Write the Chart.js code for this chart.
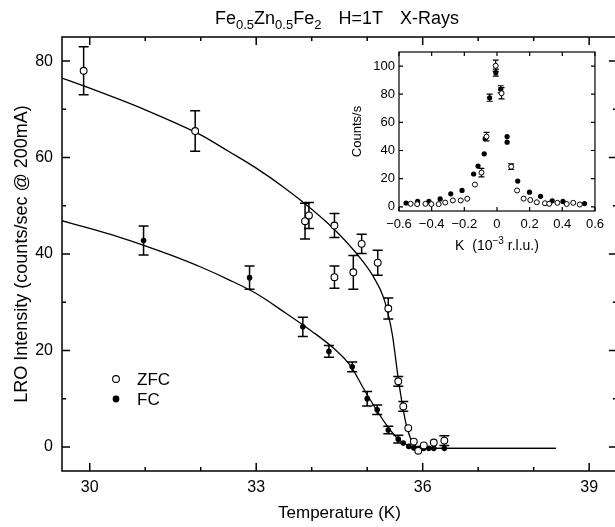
<!DOCTYPE html>
<html>
<head>
<meta charset="utf-8">
<script src="https://cdn.jsdelivr.net/npm/chart.js@4/dist/chart.umd.min.js"></script>
<style>
  html, body { margin: 0; padding: 0; background: #fff; overflow: hidden; }
  #wrap { position: relative; width: 615px; height: 527px; overflow: hidden; }
  #main { position: absolute; left: 0; top: 0; }
  #inset { position: absolute; left: 340px; top: 40px; }
</style>
</head>
<body>
<div id="wrap">
  <canvas id="main" width="622" height="527"></canvas>
  <canvas id="inset" width="270" height="220"></canvas>
</div>
<script>
// LRO intensity vs temperature, zero-field-cooled
const zfcT   = [29.89, 31.90, 33.88, 33.95, 34.41, 34.41, 34.75, 34.90, 35.19, 35.38, 35.56, 35.65, 35.74, 35.84, 35.92, 36.02, 36.20, 36.39];
const zfcI   = [78.0, 65.5, 46.8, 48.0, 45.9, 35.2, 36.2, 42.1, 38.2, 28.7, 13.6, 8.4, 3.9, 1.1, -0.8, 0.3, 0.9, 1.3];
const zfcErr = [5.0, 4.2, 3.7, 2.7, 2.5, 2.3, 3.5, 2.0, 2.6, 2.2, 1.0, 1.0, 0, 0, 0, 0, 0, 1.0];

// field-cooled
const fcT   = [30.97, 32.88, 33.84, 34.31, 34.73, 35.00, 35.18, 35.38, 35.56, 35.65, 35.75, 35.84, 35.93, 36.02, 36.11, 36.20, 36.39];
const fcI   = [42.8, 35.1, 24.9, 19.8, 16.6, 10.0, 7.7, 3.5, 1.6, 0.8, 0.1, -0.2, -0.3, -0.3, -0.3, -0.3, -0.3];
const fcErr = [3.0, 2.4, 2.0, 1.2, 1.0, 1.5, 1.0, 0.8, 0.8, 0, 0, 0, 0, 0, 0, 0, 0];

// fitted curves
const zfcFitT = [29.5, 30.0, 30.5, 31.0, 31.5, 32.0, 32.5, 33.0, 33.5, 34.0, 34.4, 34.8, 35.1, 35.3, 35.45, 35.55, 35.63, 35.7, 35.78, 35.86, 35.95, 38.4];
const zfcFitI = [76.5, 74.4, 72.2, 69.9, 67.4, 64.7, 61.3, 57.8, 53.8, 49.3, 45.2, 40.2, 35.5, 30.8, 23.5, 15.0, 9.0, 4.8, 1.8, 0.3, -0.3, -0.3];
const fcFitT  = [29.5, 30.0, 30.5, 31.0, 31.5, 32.0, 32.5, 33.0, 33.5, 34.0, 34.4, 34.7, 34.95, 35.15, 35.35, 35.55, 35.75, 35.95, 38.4];
const fcFitI  = [46.9, 45.3, 43.6, 41.7, 39.6, 37.3, 34.7, 31.8, 28.0, 24.0, 20.4, 16.8, 11.8, 8.0, 4.5, 1.7, 0.2, -0.3, -0.3];

const tempLabels = [30, 33, 36, 39];
const tempMarks = [30, 31, 32, 33, 34, 35, 36, 37, 38, 39];
const intensityLabels = [0, 20, 40, 60, 80];
const intensityMarks = [0, 10, 20, 30, 40, 50, 60, 70, 80];

// inset: K scans, counts/s
const kZfc   = [-0.529, -0.489, -0.438, -0.402, -0.357, -0.317, -0.270, -0.222, -0.182, -0.135, -0.095, -0.064, -0.008, 0.028, 0.087, 0.123, 0.163, 0.204, 0.244, 0.294, 0.320, 0.370, 0.427, 0.467, 0.507];
const cZfc   = [2.1, 1.9, 2.1, 1.9, 1.9, 3.0, 4.5, 4.5, 5.7, 15.8, 24.3, 49.9, 100.2, 80.7, 28.5, 11.6, 5.8, 4.8, 3.2, 2.5, 2.1, 2.8, 2.0, 2.8, 1.6];
const cZfcErr = [0, 0, 0, 0, 0, 0, 0, 0, 0, 0, 3, 3, 4, 4, 2, 0, 0, 0, 0, 0, 0, 0, 0, 0, 0];
const kFc    = [-0.557, -0.486, -0.417, -0.348, -0.283, -0.214, -0.143, -0.116, -0.078, -0.072, -0.045, -0.007, 0.023, 0.062, 0.062, 0.127, 0.199, 0.267, 0.338, 0.404, 0.536];
const cFc    = [2.7, 3.9, 3.8, 5.6, 9.2, 11.6, 23.3, 28.9, 37.6, 48.4, 77.5, 95.3, 83.5, 49.9, 45.9, 18.3, 10.4, 7.4, 4.2, 3.8, 2.3];
const cFcErr = [0, 0, 0, 0, 0, 0, 0, 0, 0, 0, 2.5, 2.5, 2.5, 0, 0, 0, 0, 0, 0, 0, 0];

const kLabels = [-0.6, -0.4, -0.2, 0, 0.2, 0.4, 0.6];
const countLabels = [0, 20, 40, 60, 80, 100];

const FONT = "'Liberation Sans', Arial, sans-serif";

function pts(xs, ys) {
  return xs.map((x, i) => ({ x: x, y: ys[i] }));
}

// frame plus inward tick marks on all four sides
function tickMarks(cfg) {
  return {
    id: 'tickMarks',
    afterDatasetsDraw(chart) {
      const { ctx, chartArea: a, scales: { x, y } } = chart;
      ctx.save();
      ctx.strokeStyle = '#000';
      ctx.lineWidth = cfg.lw;
      ctx.strokeRect(a.left, a.top, a.right - a.left, a.bottom - a.top);
      ctx.beginPath();
      cfg.xMarks.forEach(v => {
        const px = x.getPixelForValue(v);
        const len = cfg.xMajor.includes(v) ? cfg.big : cfg.small;
        ctx.moveTo(px, a.bottom); ctx.lineTo(px, a.bottom - len);
        ctx.moveTo(px, a.top); ctx.lineTo(px, a.top + len);
      });
      cfg.yMarks.forEach(v => {
        const py = y.getPixelForValue(v);
        const len = cfg.yMajor.includes(v) ? cfg.big : cfg.small;
        ctx.moveTo(a.left, py); ctx.lineTo(a.left + len, py);
        ctx.moveTo(a.right, py); ctx.lineTo(a.right - len, py);
      });
      ctx.stroke();
      ctx.restore();
    }
  };
}

// vertical error bars with caps, drawn under the markers
const errorBars = {
  id: 'errorBars',
  beforeDatasetsDraw(chart) {
    const { ctx, scales: { y } } = chart;
    chart.data.datasets.forEach((ds, i) => {
      if (!ds.yErr) return;
      const meta = chart.getDatasetMeta(i);
      ctx.save();
      ctx.strokeStyle = '#000';
      ctx.lineWidth = ds.errWidth;
      ctx.beginPath();
      meta.data.forEach((pt, j) => {
        const e = ds.yErr[j];
        if (!e) return;
        const v = ds.data[j].y;
        const y1 = y.getPixelForValue(v + e);
        const y2 = y.getPixelForValue(v - e);
        const c = ds.capHalf;
        ctx.moveTo(pt.x, y1); ctx.lineTo(pt.x, y2);
        ctx.moveTo(pt.x - c, y1); ctx.lineTo(pt.x + c, y1);
        ctx.moveTo(pt.x - c, y2); ctx.lineTo(pt.x + c, y2);
      });
      ctx.stroke();
      ctx.restore();
    });
  }
};

// title with subscripts and the ZFC / FC key
const mainDecor = {
  id: 'mainDecor',
  afterDraw(chart) {
    const ctx = chart.ctx;
    ctx.save();
    ctx.fillStyle = '#000';
    ctx.textBaseline = 'alphabetic';
    const parts = [['Fe', 0], ['0.5', 1], ['Zn', 0], ['0.5', 1], ['Fe', 0], ['2', 1], ['H=1T', 2], ['X-Rays', 2]];
    let x = 215;
    parts.forEach(([s, kind]) => {
      if (kind === 2) x += 17;
      ctx.font = (kind === 1 ? '13px ' : '18px ') + FONT;
      ctx.fillText(s, x, kind === 1 ? 29 : 24);
      x += ctx.measureText(s).width;
    });

    // key
    ctx.lineWidth = 1.1;
    ctx.strokeStyle = '#000';
    ctx.beginPath(); ctx.arc(116, 379, 3.4, 0, Math.PI * 2);
    ctx.fillStyle = '#fff'; ctx.fill(); ctx.stroke();
    ctx.beginPath(); ctx.arc(116, 399, 3.4, 0, Math.PI * 2);
    ctx.fillStyle = '#000'; ctx.fill();
    ctx.font = '17px ' + FONT;
    ctx.textBaseline = 'middle';
    ctx.fillText('ZFC', 137, 380);
    ctx.fillText('FC', 137, 400);
    ctx.restore();
  }
};

new Chart(document.getElementById('main'), {
  type: 'scatter',
  data: {
    datasets: [
      {
        label: 'ZFC', data: pts(zfcT, zfcI), yErr: zfcErr, errWidth: 1.5, capHalf: 5,
        pointRadius: 3.4, pointBorderWidth: 1.1, pointBackgroundColor: '#fff', pointBorderColor: '#000', order: 0
      },
      {
        label: 'FC', data: pts(fcT, fcI), yErr: fcErr, errWidth: 1.5, capHalf: 5,
        pointRadius: 2.8, pointBorderWidth: 0, pointBackgroundColor: '#000', pointBorderColor: '#000', order: 0
      },
      {
        label: 'ZFC fit', data: pts(zfcFitT, zfcFitI), showLine: true, pointRadius: 0,
        borderColor: '#000', borderWidth: 1.3, cubicInterpolationMode: 'monotone', order: 1
      },
      {
        label: 'FC fit', data: pts(fcFitT, fcFitI), showLine: true, pointRadius: 0,
        borderColor: '#000', borderWidth: 1.3, cubicInterpolationMode: 'monotone', order: 1
      }
    ]
  },
  options: {
    responsive: false,
    animation: false,
    layout: { padding: { top: 37, right: 4, left: 0, bottom: 0 } },
    plugins: { legend: { display: false }, tooltip: { enabled: false } },
    scales: {
      x: {
        type: 'linear', min: 29.5, max: 39.5,
        afterBuildTicks: s => { s.ticks = tempLabels.map(v => ({ value: v })); },
        afterFit: s => { s.height = 56; },
        grid: { display: false, drawTicks: false },
        border: { display: false },
        ticks: { color: '#000', font: { family: FONT, size: 16 }, padding: 7, maxRotation: 0 },
        title: { display: true, text: 'Temperature (K)', color: '#000', font: { family: FONT, size: 17 }, padding: { top: 0, bottom: 3 } }
      },
      y: {
        type: 'linear', min: -5, max: 85,
        afterBuildTicks: s => { s.ticks = intensityLabels.map(v => ({ value: v })); },
        afterFit: s => { s.width = 62; },
        grid: { display: false, drawTicks: false },
        border: { display: false },
        ticks: { color: '#000', font: { family: FONT, size: 16 }, padding: 9 },
        title: { display: true, text: 'LRO Intensity (counts/sec @ 200mA)', color: '#000', font: { family: FONT, size: 18 }, padding: { top: 11, bottom: 0 } }
      }
    }
  },
  plugins: [errorBars, tickMarks({ lw: 1.5, xMarks: tempMarks, xMajor: tempLabels, yMarks: intensityMarks, yMajor: intensityLabels, big: 8, small: 4 }), mainDecor]
});

// K axis label with a raised exponent
const insetDecor = {
  id: 'insetDecor',
  afterDraw(chart) {
    const { ctx, chartArea: a } = chart;
    ctx.save();
    ctx.fillStyle = '#000';
    ctx.textBaseline = 'alphabetic';
    const parts = [['K  (10', 0], ['\u22123', 1], [' r.l.u.)', 0]];
    let w = 0;
    parts.forEach(([s, k]) => { ctx.font = (k ? '10px ' : '14px ') + FONT; w += ctx.measureText(s).width; });
    let x = (a.left + a.right) / 2 - w / 2;
    parts.forEach(([s, k]) => {
      ctx.font = (k ? '10px ' : '14px ') + FONT;
      ctx.fillText(s, x, k ? 204 : 210);
      x += ctx.measureText(s).width;
    });
    ctx.restore();
  }
};

new Chart(document.getElementById('inset'), {
  type: 'scatter',
  data: {
    datasets: [
      {
        label: 'ZFC', data: pts(kZfc, cZfc), yErr: cZfcErr, errWidth: 1.2, capHalf: 3,
        pointRadius: 2.5, pointBorderWidth: 1, pointBackgroundColor: '#fff', pointBorderColor: '#000'
      },
      {
        label: 'FC', data: pts(kFc, cFc), yErr: cFcErr, errWidth: 1.2, capHalf: 3,
        pointRadius: 2.6, pointBorderWidth: 0, pointBackgroundColor: '#000', pointBorderColor: '#000'
      }
    ]
  },
  options: {
    responsive: false,
    animation: false,
    layout: { padding: { top: 12, right: 14, left: 0, bottom: 0 } },
    plugins: { legend: { display: false }, tooltip: { enabled: false } },
    scales: {
      x: {
        type: 'linear', min: -0.6, max: 0.6,
        afterBuildTicks: s => { s.ticks = kLabels.map(v => ({ value: v })); },
        afterFit: s => { s.height = 49; },
        grid: { display: false, drawTicks: false },
        border: { display: false },
        ticks: {
          color: '#000', font: { family: FONT, size: 13 }, padding: 6, maxRotation: 0,
          callback: v => (v === 0 ? '0' : v.toFixed(1).replace('-', '\u2212'))
        }
      },
      y: {
        type: 'linear', min: -3, max: 110,
        afterBuildTicks: s => { s.ticks = countLabels.map(v => ({ value: v })); },
        afterFit: s => { s.width = 59; },
        grid: { display: false, drawTicks: false },
        border: { display: false },
        ticks: { color: '#000', font: { family: FONT, size: 13 }, padding: 4 },
        title: { display: true, text: 'Counts/s', color: '#000', font: { family: FONT, size: 13 }, padding: { top: 10, bottom: 0 } }
      }
    }
  },
  plugins: [errorBars, tickMarks({ lw: 1.2, xMarks: kLabels, xMajor: kLabels, yMarks: countLabels, yMajor: countLabels, big: 4, small: 4 }), insetDecor]
});
</script>
</body>
</html>
